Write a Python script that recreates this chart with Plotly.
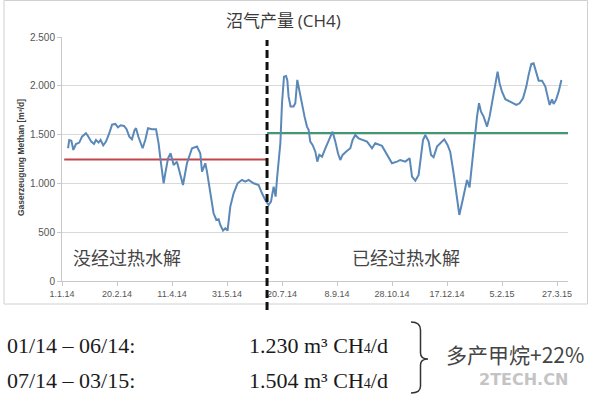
import plotly.graph_objects as go

# ---------------- data ----------------
day = [5.5, 6.6, 8.5, 10.3, 12.7, 15.7, 18.2, 21.8, 23.6, 26.6,
       29.1, 30.9, 33.3, 35.1, 37.5, 40.0, 43.0, 45.5, 48.5, 50.9,
       53.3, 56.4, 58.7, 61.2, 63.6, 66.0, 67.3, 69.6, 73.3, 75.7,
       78.2, 81.8, 85.5, 87.8, 89.6, 92.4, 93.9, 96.4, 98.7, 101.5,
       104.5, 110.0, 113.6, 118.2, 122.7, 125.7, 127.3, 130.3, 131.8, 134.8,
       137.8, 140.3, 142.4, 143.9, 146.4, 148.5, 150.5, 153.0, 156.0, 159.6,
       163.6, 166.6, 169.6, 174.2, 178.7, 181.8, 184.8, 187.8, 190.0, 192.4,
       194.2, 195.5, 196.9, 198.5, 200.0, 201.8, 203.6, 204.8, 206.0, 207.8,
       210.5, 212.1, 213.9, 215.7, 218.2, 220.5, 222.7, 224.2, 225.7, 227.8,
       230.3, 232.1, 233.9, 236.4, 239.4, 243.0, 246.0, 248.5, 250.9, 253.0,
       255.1, 258.2, 262.1, 264.2, 266.6, 269.6, 272.7, 277.3, 281.8, 284.8,
       290.9, 293.9, 296.9, 300.0, 304.5, 307.5, 312.1, 316.0, 318.2, 321.2,
       324.2, 326.4, 328.2, 330.3, 333.3, 335.5, 337.8, 340.9, 344.0, 347.5,
       350.5, 352.9, 356.0, 359.1, 361.2, 363.6, 366.6, 368.2, 370.5, 373.6,
       375.7, 377.3, 379.1, 380.9, 383.3, 386.4, 388.7, 391.8, 393.9, 396.0,
       397.8, 400.0, 403.0, 406.0, 409.1, 413.0, 416.0, 419.1, 422.1, 424.2,
       426.6, 428.7, 431.2, 433.3, 436.4, 439.4, 441.5, 443.3, 445.5, 446.9,
       449.1, 451.5, 454.0]

methane = [1360, 1445, 1438, 1343, 1404, 1418, 1479, 1514, 1486, 1428,
           1404, 1445, 1418, 1445, 1390, 1428, 1514, 1602, 1609, 1575,
           1596, 1589, 1555, 1479, 1452, 1548, 1565, 1473, 1360, 1445,
           1565, 1555, 1555, 1411, 1240, 1001, 1104, 1258, 1309, 1189,
           1223, 984, 1206, 1360, 1377, 1309, 1121, 1206, 1121, 899,
           694, 625, 632, 574, 516, 540, 516, 762, 899, 1001,
           1035, 1018, 1035, 1001, 984, 899, 830, 779, 813, 967,
           864, 1053, 1240, 1411, 1821, 2094, 2101, 2060, 1889, 1787,
           1787, 1821, 2060, 1958, 1787, 1684, 1582, 1548, 1428, 1394,
           1325, 1223, 1292, 1274, 1360, 1445, 1530, 1428, 1309, 1240,
           1292, 1325, 1360, 1445, 1496, 1462, 1445, 1428, 1360, 1411,
           1384, 1325, 1274, 1206, 1223, 1240, 1223, 1258, 1069, 1028,
           1087, 1309, 1445, 1496, 1428, 1292, 1268, 1377, 1411, 1452,
           1394, 1325, 1104, 864, 677, 796, 933, 1035, 960, 1309,
           1514, 1684, 1821, 1735, 1684, 1582, 1684, 1889, 2026, 2145,
           2026, 1940, 1862, 1848, 1828, 1804, 1821, 1873, 1992, 2112,
           2224, 2231, 2129, 2053, 2053, 1992, 1889, 1804, 1862, 1814,
           1855, 1940, 2060]

before_days = [2.0, 186.4]
before_mean = [1245, 1245]
after_days = [186.4, 460.0]
after_mean = [1517, 1517]
switch_day = 186.4

x_tick_days = [0, 50, 100, 150, 200, 250, 300, 350, 400, 450]
x_tick_labels = ["1.1.14", "20.2.14", "11.4.14", "31.5.14", "20.7.14",
                 "8.9.14", "28.10.14", "17.12.14", "5.2.15", "27.3.15"]
y_tick_vals = [0, 500, 1000, 1500, 2000, 2500]
y_tick_labels = ["0", "500", "1.000", "1.500", "2.000", "2.500"]

period_labels = ["01/14 – 06/14:", "07/14 – 03/15:"]
period_values = ["1.230", "1.504"]

# ---------------- layout helpers ----------------
W, H = 589, 398
PL, PR, PT, PB = 62, 568, 37, 281   # plot area in pixels


def px(x):
    return (x - PL) / (PR - PL)


def py(y):
    return (PB - y) / (PB - PT)


fig = go.Figure()

fig.add_trace(go.Scatter(x=before_days, y=before_mean, mode="lines",
                         line=dict(color="#c0464b", width=2), hoverinfo="skip"))
fig.add_trace(go.Scatter(x=after_days, y=after_mean, mode="lines",
                         line=dict(color="#3f9b6f", width=2), hoverinfo="skip"))
fig.add_trace(go.Scatter(x=day, y=methane, mode="lines",
                         line=dict(color="#5a88b8", width=2), cliponaxis=False))

shapes = []
# chart frame
shapes.append(dict(type="rect", xref="paper", yref="paper",
                   x0=px(4), x1=px(587.5), y0=py(304), y1=py(0.5),
                   line=dict(color="#d0d0d0", width=1), layer="below"))
# dashed separator
shapes.append(dict(type="line", xref="x", yref="paper",
                   x0=switch_day, x1=switch_day, y0=py(310), y1=py(40),
                   line=dict(color="#111111", width=3, dash="8px,4px")))
# bracket
bx, tx = 420.5, 411
path = (f"M {px(tx)},{py(322)} Q {px(bx)},{py(322)} {px(bx)},{py(330)} "
        f"L {px(bx)},{py(353)} Q {px(bx)},{py(359)} {px(428)},{py(359)} "
        f"Q {px(bx)},{py(359)} {px(bx)},{py(365)} "
        f"L {px(bx)},{py(386)} Q {px(bx)},{py(393)} {px(tx)},{py(393)}")
shapes.append(dict(type="path", xref="paper", yref="paper", path=path,
                   line=dict(color="#333333", width=1.5)))

cjk = "Noto Sans CJK SC"
serif = "Liberation Serif"
ann = []


def note(text, x, y, xanchor="center", **kw):
    ann.append(dict(text=text, x=px(x), y=py(y), xref="paper", yref="paper",
                    xanchor=xanchor, yanchor="middle", showarrow=False, **kw))


note("沼气产量 <span style='font-family:Open Sans'>(CH4)</span>", 283, 20,
     font=dict(family=cjk, size=17, color="#3a3a3a"))
note("没经过热水解", 127, 257, font=dict(family=cjk, size=18, color="#444444"))
note("已经过热水解", 406, 257, font=dict(family=cjk, size=18, color="#444444"))
note("<b>Gaserzeugung Methan [m³/d]</b>", 21, 158, textangle=-90,
     font=dict(family="Liberation Sans", size=8.5, color="#404040"))
rows_y = [345, 380]
for lab, val, yy in zip(period_labels, period_values, rows_y):
    note(lab, 5, yy, xanchor="left",
         font=dict(family=serif, size=22, color="#1a1a1a"))
    note(f"{val} m³ CH<span style='font-size:14px'>4</span>/d", 247, yy,
         xanchor="left", font=dict(family=serif, size=22, color="#1a1a1a"))
note("多产甲烷+22%", 444, 354, xanchor="left",
     font=dict(family=cjk, size=21, color="#444444"))
note("<b>2TECH.CN</b>", 523, 379,
     font=dict(family="DejaVu Sans", size=16, color="#c4c4c4"))

fig.update_layout(
    width=W, height=H,
    margin=dict(l=PL, r=W - PR, t=PT, b=H - PB),
    paper_bgcolor="white", plot_bgcolor="white",
    showlegend=False,
    shapes=shapes, annotations=ann,
    xaxis=dict(range=[0, 460], tickmode="array", tickvals=x_tick_days,
               ticktext=x_tick_labels, showgrid=False, zeroline=False,
               showline=True, linecolor="#c8c8c8", linewidth=1,
               ticks="outside", ticklen=4, tickcolor="#c8c8c8",
               tickfont=dict(family="Liberation Sans", size=9, color="#555555")),
    yaxis=dict(range=[0, 2500], tickmode="array", tickvals=y_tick_vals,
               ticktext=y_tick_labels, showgrid=True, gridcolor="#d9d9d9",
               gridwidth=1, zeroline=False, showline=True, linecolor="#c8c8c8",
               linewidth=1, ticks="outside", ticklen=4, tickcolor="#c8c8c8",
               tickfont=dict(family="Liberation Sans", size=10, color="#555555")),
)

fig.write_html("out.html", config={"displayModeBar": False},
               post_script="document.body.style.margin='0';"
                           "document.body.style.overflow='hidden';")
